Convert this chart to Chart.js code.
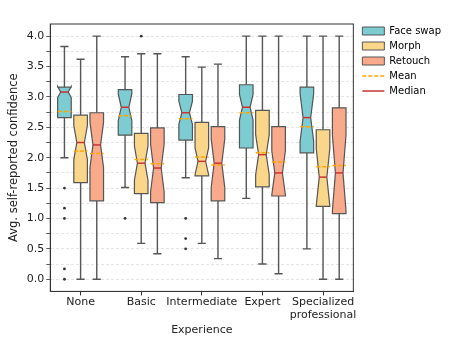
<!DOCTYPE html>
<html>
<head>
<meta charset="utf-8">
<script src="https://cdn.jsdelivr.net/npm/chart.js@4.4.0/dist/chart.umd.min.js"></script>
<style>
  html, body { margin: 0; padding: 0; background: #fff; }
  #wrap { width: 463px; height: 348px; }
</style>
</head>
<body>
<div id="wrap"><canvas id="myChart" width="463" height="348"></canvas></div>
<script>
// categories and series
var experience = ["None", "Basic", "Intermediate", "Expert", ["Specialized", "professional"]];
var seriesNames = ["Face swap", "Morph", "Retouch"];

// each row: [whisker low, Q1, median, Q3, whisker high]
var faceSwapBox = [
  [2.00, 2.66, 3.08, 3.16, 3.83],
  [1.51, 2.37, 2.83, 3.12, 3.66],
  [1.67, 2.29, 2.74, 3.04, 3.66],
  [1.33, 2.16, 2.83, 3.20, 4.00],
  [0.50, 2.08, 2.66, 3.16, 4.00]
];
var faceSwapMean = [2.76, 2.69, 2.64, 2.74, 2.51];
var faceSwapNotch = [0.09, 0.22, 0.19, 0.21, 0.39];   // half height of the notch
var faceSwapOutliers = [[1.50, 1.17, 1.00, 0.17, 0.00], [1.00], [1.00, 0.67, 0.50], [], []];

var morphBox = [
  [0.00, 1.59, 2.25, 2.70, 3.62],
  [0.59, 1.41, 1.91, 2.40, 3.71],
  [0.59, 1.70, 1.94, 2.58, 3.49],
  [0.25, 1.52, 2.05, 2.78, 4.00],
  [0.00, 1.20, 1.68, 2.46, 4.00]
];
var morphMean = [2.11, 1.97, 2.01, 2.08, 1.85];
var morphNotch = [0.28, 0.28, 0.22, 0.33, 0.47];
var morphOutliers = [[], [4.00], [], [], []];

var retouchBox = [
  [0.00, 1.29, 2.21, 2.74, 4.00],
  [0.42, 1.26, 1.83, 2.49, 3.71],
  [0.34, 1.29, 1.91, 2.51, 3.54],
  [0.09, 1.37, 1.75, 2.51, 4.00],
  [0.00, 1.08, 1.75, 2.82, 4.00]
];
var retouchMean = [2.07, 1.90, 1.88, 1.93, 1.87];
var retouchNotch = [0.37, 0.39, 0.40, 0.36, 0.62];
var retouchOutliers = [[], [], [], [], []];

var yTicks = [0, 0.5, 1, 1.5, 2, 2.5, 3, 3.5, 4];

// styles
var boxColors = ["#7dccd1", "#f9d68a", "#f9aa8b"];
var edgeColor = "#555555";
var meanColor = "#ffa500";
var medianColor = "#cc3333";

var allBoxes = [faceSwapBox, morphBox, retouchBox];
var allMeans = [faceSwapMean, morphMean, retouchMean];
var allNotches = [faceSwapNotch, morphNotch, retouchNotch];
var allOutliers = [faceSwapOutliers, morphOutliers, retouchOutliers];

Chart.defaults.font.family = "'DejaVu Sans', sans-serif";
Chart.defaults.color = "#222";

// draws notched boxes, whiskers, medians, means and fliers on the bar slots
var boxPlotPlugin = {
  id: "boxplot",
  afterLayout: function(chart) {
    // small gap between the plot frame and the legend
    chart.legend.left += 4;
    chart.legend.right += 4;
  },
  afterDatasetsDraw: function(chart) {
    var ctx = chart.ctx;
    var y = chart.scales.y;
    var area = chart.chartArea;
    ctx.save();
    for (var d = 0; d < allBoxes.length; d++) {
      var meta = chart.getDatasetMeta(d);
      for (var i = 0; i < meta.data.length; i++) {
        var bar = meta.data[i];
        var s = allBoxes[d][i];
        var cx = bar.x, w = bar.width;
        var left = cx - w / 2, right = cx + w / 2;
        var capL = cx - w * 0.28, capR = cx + w * 0.28;
        var notch = allNotches[d][i];

        // whiskers and caps
        ctx.strokeStyle = edgeColor;
        ctx.lineWidth = 1.4;
        ctx.setLineDash([]);
        ctx.beginPath();
        ctx.moveTo(cx, y.getPixelForValue(s[1]));
        ctx.lineTo(cx, y.getPixelForValue(s[0]));
        ctx.moveTo(cx, y.getPixelForValue(s[3]));
        ctx.lineTo(cx, y.getPixelForValue(s[4]));
        ctx.moveTo(cx - w * 0.3, y.getPixelForValue(s[0]));
        ctx.lineTo(cx + w * 0.3, y.getPixelForValue(s[0]));
        ctx.moveTo(cx - w * 0.3, y.getPixelForValue(s[4]));
        ctx.lineTo(cx + w * 0.3, y.getPixelForValue(s[4]));
        ctx.stroke();

        // notched box
        var pts = [
          [left, s[1]], [right, s[1]], [right, s[2] - notch], [capR, s[2]],
          [right, s[2] + notch], [right, s[3]], [left, s[3]], [left, s[2] + notch],
          [capL, s[2]], [left, s[2] - notch]
        ];
        ctx.beginPath();
        pts.forEach(function(p, k) {
          var py = y.getPixelForValue(p[1]);
          if (k == 0) ctx.moveTo(p[0], py); else ctx.lineTo(p[0], py);
        });
        ctx.closePath();
        ctx.fillStyle = boxColors[d];
        ctx.fill();
        ctx.lineWidth = 1.2;
        ctx.stroke();

        // median
        var my = y.getPixelForValue(s[2]);
        ctx.strokeStyle = medianColor;
        ctx.lineWidth = 1.5;
        ctx.beginPath();
        ctx.moveTo(capL, my);
        ctx.lineTo(capR, my);
        ctx.stroke();

        // mean
        var ay = y.getPixelForValue(allMeans[d][i]);
        ctx.strokeStyle = meanColor;
        ctx.setLineDash([4, 2]);
        ctx.beginPath();
        ctx.moveTo(left, ay);
        ctx.lineTo(right, ay);
        ctx.stroke();
        ctx.setLineDash([]);

        // outliers
        ctx.fillStyle = "#333";
        allOutliers[d][i].forEach(function(v) {
          ctx.beginPath();
          ctx.arc(cx, y.getPixelForValue(v), 1.4, 0, Math.PI * 2);
          ctx.fill();
        });
      }
    }
    // full frame
    ctx.strokeStyle = "#333";
    ctx.lineWidth = 1;
    ctx.strokeRect(area.left, area.top, area.right - area.left, area.bottom - area.top);
    ctx.restore();
  }
};

var datasets = seriesNames.map(function(name, d) {
  return {
    label: name,
    data: allBoxes[d].map(function(s) { return [s[1], s[3]]; }),
    backgroundColor: "rgba(0,0,0,0)",
    borderWidth: 0,
    categoryPercentage: 0.8,
    barPercentage: 0.84
  };
});

var ctx = document.getElementById("myChart");

var myChart = new Chart(ctx, {
  type: "bar",
  data: {
    labels: experience,
    datasets: datasets
  },
  plugins: [boxPlotPlugin],
  options: {
    responsive: false,
    animation: false,
    events: [],
    layout: { padding: { top: 21, right: 16, bottom: 11, left: 3 } },
    plugins: {
      tooltip: { enabled: false },
      legend: {
        position: "right",
        align: "start",
        labels: {
          usePointStyle: true,
          pointStyleWidth: 22,
          boxHeight: 8,
          padding: 5,
          color: "#222",
          font: { size: 10 },
          generateLabels: function() {
            var items = seriesNames.map(function(name, d) {
              return { text: name, fillStyle: boxColors[d], strokeStyle: edgeColor, lineWidth: 1, pointStyle: "rect", hidden: false };
            });
            items.push({ text: "Mean", fillStyle: meanColor, strokeStyle: meanColor, lineWidth: 1.5, lineDash: [4, 2], pointStyle: "line", hidden: false });
            items.push({ text: "Median", fillStyle: medianColor, strokeStyle: medianColor, lineWidth: 1.5, pointStyle: "line", hidden: false });
            return items;
          }
        }
      }
    },
    scales: {
      x: {
        type: "category",
        offset: true,
        grid: { display: true, drawOnChartArea: false, offset: false, tickLength: 4, tickColor: "#333" },
        border: { color: "#333" },
        ticks: { padding: 0, font: { size: 11 }, color: "#222", maxRotation: 0, autoSkip: false },
        title: { display: true, text: "Experience", font: { size: 11 }, color: "#222", padding: { top: 2, bottom: 0 } }
      },
      xTop: {
        type: "category",
        position: "top",
        labels: experience,
        grid: { display: false },
        border: { display: false },
        ticks: { display: false },
        afterFit: function(scale) { scale.height = 3; }
      },
      y: {
        type: "linear",
        min: -0.2,
        max: 4.2,
        grid: {
          color: "#dddddd",
          lineWidth: 0.8,
          tickLength: 4,
          tickColor: "#333"
        },
        border: { color: "#333", dash: [3, 2] },
        ticks: {
          stepSize: 0.25,
          includeBounds: false,
          autoSkip: false,
          padding: 2,
          font: { size: 11 },
          color: "#222",
          callback: function(v) {
            return yTicks.indexOf(v) >= 0 ? v.toFixed(1) : "";
          }
        },
        title: { display: true, text: "Avg. self-reported confidence", font: { size: 11.5 }, color: "#222", padding: { top: 4, bottom: 4 } }
      }
    }
  }
});
</script>
</body>
</html>
